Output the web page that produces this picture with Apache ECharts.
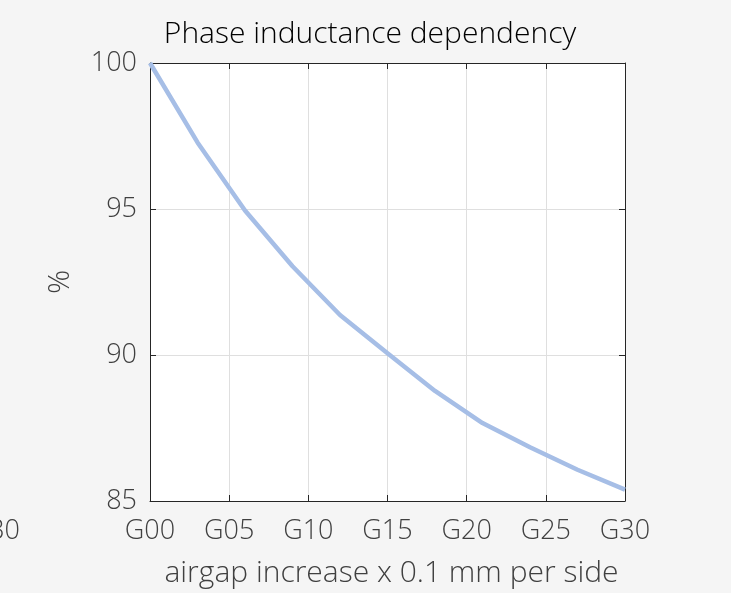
<!DOCTYPE html>
<html><head><meta charset="utf-8">
<script src="https://cdn.jsdelivr.net/npm/echarts@6/dist/echarts.min.js"></script>
<style>html,body{margin:0;padding:0;background:#f5f5f5;}#c{width:731px;height:593px;}</style>
</head><body><div id="c"></div>
<script>
const categories = [];
for (let i = 0; i <= 30; i++) categories.push('G' + String(i).padStart(2, '0'));
const sampleCats = ['G00','G03','G06','G09','G12','G15','G18','G21','G24','G27','G30'];
const inductance = [100, 97.28, 94.95, 93.04, 91.37, 90.06, 88.77, 87.67, 86.84, 86.07, 85.39];
const yTicks = [85, 90, 95, 100];

const font = '"Open Sans", "Noto Sans", sans-serif';
const chart = echarts.init(document.getElementById('c'), null, {renderer: 'canvas'});
const axisLineStyle = {color: '#262626', width: 1};
chart.setOption({
  backgroundColor: '#f5f5f5',
  animation: false,
  title: {
    text: 'Phase inductance dependency',
    left: 365, top: 14, textAlign: 'center',
    textStyle: {fontFamily: font, fontSize: 30, fontWeight: 300, color: '#000'}
  },
  graphic: [{
    type: 'text', right: 711, top: 518,
    style: {text: 'G30', font: '300 27px ' + font, fill: '#404040'}
  }],
  grid: {left: 150, right: 106, top: 63, bottom: 91, show: true, backgroundColor: '#fff', borderWidth: 0},
  xAxis: [{
    type: 'category', data: categories, boundaryGap: false,
    axisLine: {lineStyle: axisLineStyle},
    axisTick: {inside: true, interval: 4, length: 6, lineStyle: axisLineStyle},
    axisLabel: {interval: 4, fontFamily: font, fontSize: 27, fontWeight: 300, color: '#404040', margin: 17},
    splitLine: {show: true, interval: 4, lineStyle: {color: '#dfdfdf'}},
    name: 'airgap increase x 0.1 mm per side', nameLocation: 'middle', nameGap: 57,
    nameTextStyle: {fontFamily: font, fontSize: 30, fontWeight: 300, color: '#404040', padding: [0, 0, 0, 8]}
  }, {
    type: 'category', data: categories, boundaryGap: false, position: 'top',
    axisLine: {lineStyle: axisLineStyle},
    axisTick: {inside: true, interval: 4, length: 6, lineStyle: axisLineStyle},
    axisLabel: {show: false}, splitLine: {show: false}
  }],
  yAxis: [{
    type: 'value', min: 85, max: 100, interval: 5,
    axisLine: {show: true, lineStyle: axisLineStyle},
    axisTick: {show: true, inside: true, length: 6, lineStyle: axisLineStyle},
    axisLabel: {fontFamily: font, fontSize: 27, fontWeight: 300, color: '#404040', margin: 13,
      formatter: v => yTicks.includes(v) ? String(v) : ''},
    splitLine: {show: true, lineStyle: {color: '#dfdfdf'}},
    name: '%', nameLocation: 'middle', nameGap: 75, nameRotate: 90,
    nameTextStyle: {fontFamily: font, fontSize: 30, fontWeight: 300, color: '#404040'}
  }, {
    type: 'value', min: 85, max: 100, interval: 5, position: 'right',
    axisLine: {show: true, lineStyle: axisLineStyle},
    axisTick: {show: true, inside: true, length: 6, lineStyle: axisLineStyle},
    axisLabel: {show: false}, splitLine: {show: false}
  }],
  series: [{
    type: 'line', xAxisIndex: 0, yAxisIndex: 0,
    data: sampleCats.map((c, i) => [c, inductance[i]]),
    showSymbol: false, symbol: 'none',
    lineStyle: {color: '#a6bee6', width: 4.5},
    z: 3
  }]
});
</script></body></html>
